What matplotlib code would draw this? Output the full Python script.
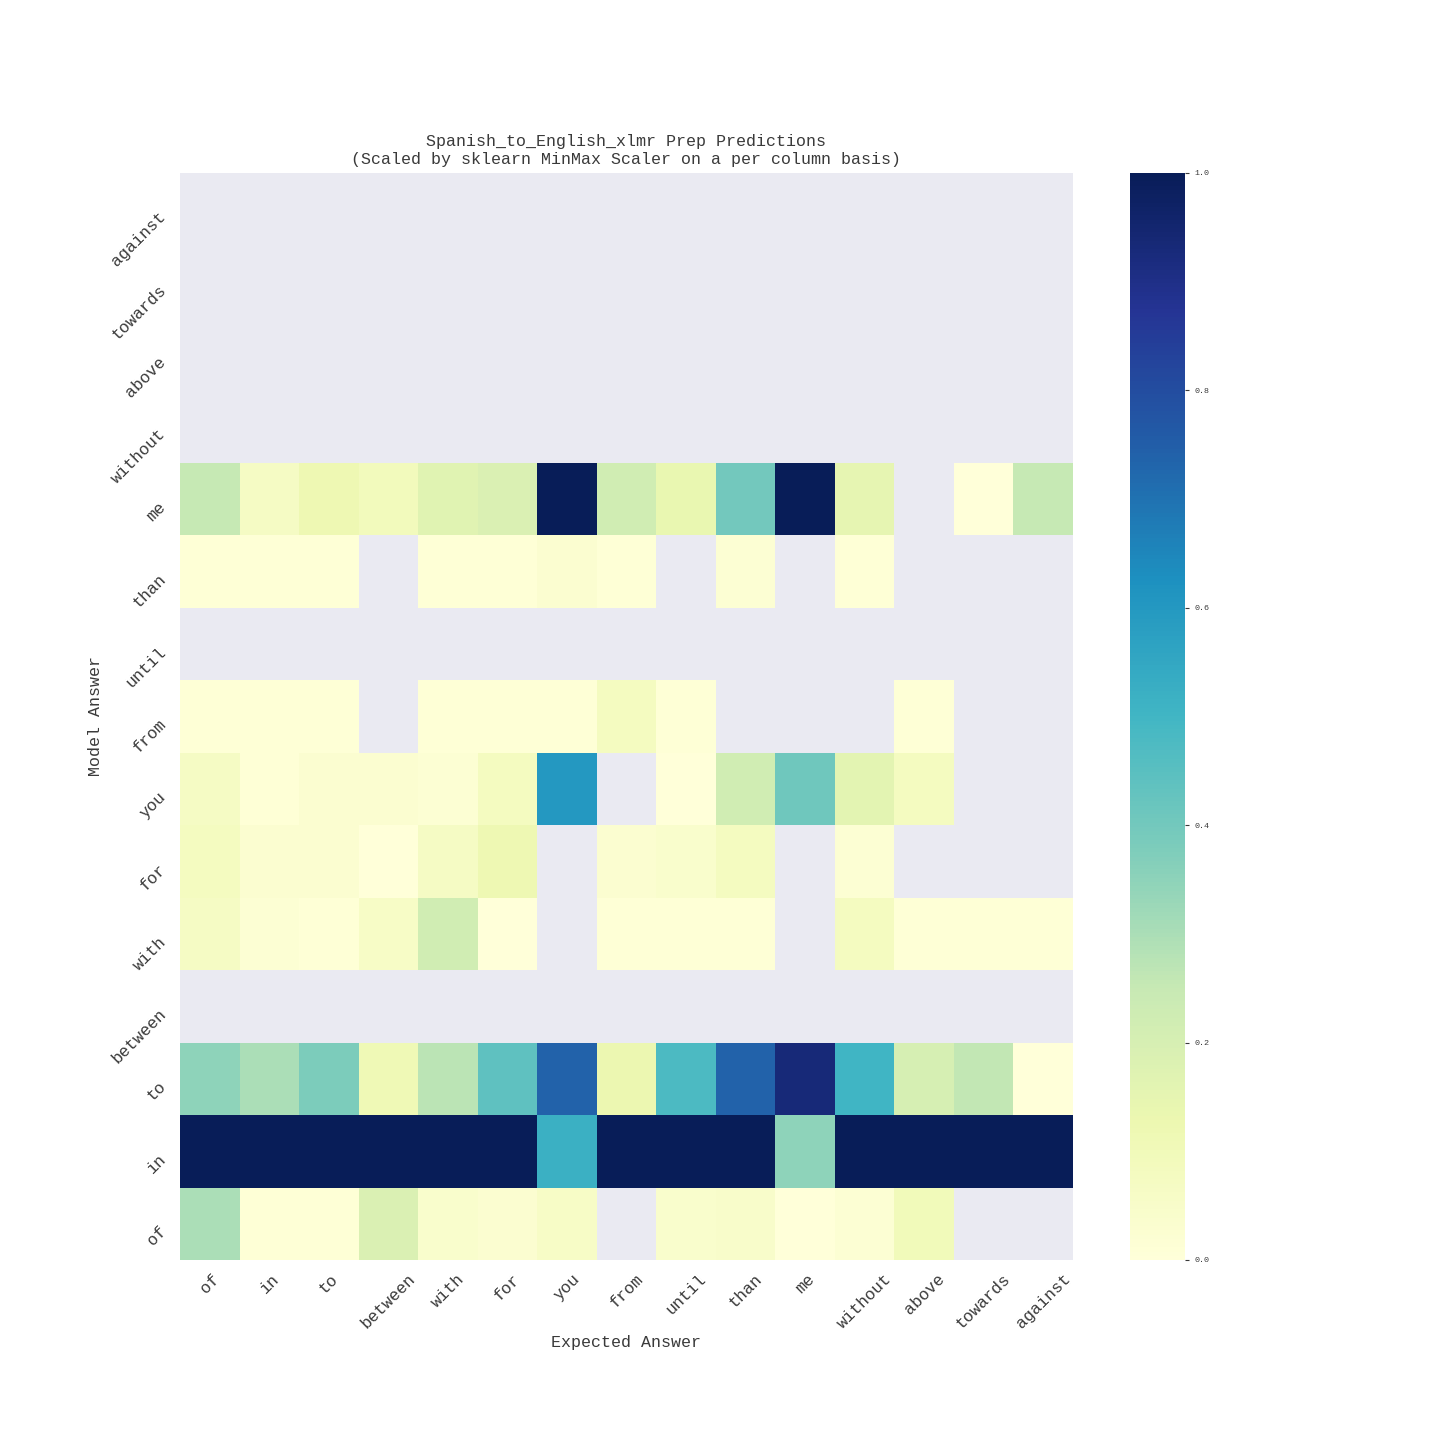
import numpy as np
import pandas as pd
import matplotlib
matplotlib.use("Agg")
import matplotlib.pyplot as plt
import seaborn as sns

nan = np.nan

# labels (rows listed bottom -> top)
expected = ["of", "in", "to", "between", "with", "for", "you", "from",
            "until", "than", "me", "without", "above", "towards", "against"]
model = ["of", "in", "to", "between", "with", "for", "you", "from",
         "until", "than", "me", "without", "above", "towards", "against"]

# scaled values per model answer row, columns follow `expected`
row_of = [0.30, 0.01, 0.01, 0.19, 0.04, 0.03, 0.06, nan, 0.04, 0.05, 0.00, 0.02, 0.10, nan, nan]
row_in = [1.00, 1.00, 1.00, 1.00, 1.00, 1.00, 0.52, 1.00, 1.00, 1.00, 0.35, 1.00, 1.00, 1.00, 1.00]
row_to = [0.35, 0.30, 0.38, 0.11, 0.27, 0.44, 0.74, 0.13, 0.48, 0.74, 0.93, 0.50, 0.20, 0.26, 0.00]
row_between = [nan] * 15
row_with = [0.07, 0.02, 0.01, 0.06, 0.22, 0.00, nan, 0.01, 0.01, 0.01, nan, 0.08, 0.01, 0.01, 0.01]
row_for = [0.08, 0.03, 0.03, 0.00, 0.07, 0.12, nan, 0.03, 0.04, 0.08, nan, 0.02, nan, nan, nan]
row_you = [0.07, 0.01, 0.03, 0.03, 0.02, 0.08, 0.60, nan, 0.00, 0.22, 0.41, 0.16, 0.08, nan, nan]
row_from = [0.01, 0.01, 0.01, nan, 0.01, 0.01, 0.01, 0.08, 0.01, nan, nan, nan, 0.01, nan, nan]
row_until = [nan] * 15
row_than = [0.01, 0.01, 0.01, nan, 0.01, 0.01, 0.03, 0.01, nan, 0.02, nan, 0.01, nan, nan, nan]
row_me = [0.25, 0.07, 0.12, 0.09, 0.17, 0.19, 1.00, 0.22, 0.14, 0.40, 1.00, 0.15, nan, 0.00, 0.25]
row_without = [nan] * 15
row_above = [nan] * 15
row_towards = [nan] * 15
row_against = [nan] * 15

rows = [row_of, row_in, row_to, row_between, row_with, row_for, row_you, row_from,
        row_until, row_than, row_me, row_without, row_above, row_towards, row_against]
df = pd.DataFrame(rows, index=model, columns=expected)

font = "Liberation Mono"
txt = "#3a3a3a"

fig = plt.figure(figsize=(14.4, 14.4), dpi=100)
ax = fig.add_axes([0.125, 0.125, 0.62, 0.755])
cax = fig.add_axes([0.785, 0.125, 0.038, 0.755])
ax.set_facecolor("#EAEAF2")

sns.heatmap(df, ax=ax, cbar_ax=cax, cmap="YlGnBu", vmin=0, vmax=1)
ax.invert_yaxis()

ax.set_title("Spanish_to_English_xlmr Prep Predictions\n(Scaled by sklearn MinMax Scaler on a per column basis)",
             fontsize=12, family=font, color=txt, pad=6, linespacing=1.3)
ax.set_xlabel("Expected Answer", fontsize=12, family=font, color=txt, labelpad=3)
ax.set_ylabel("Model Answer", fontsize=12, family=font, color=txt)

ax.set_xticklabels(expected, rotation=45, fontsize=12, family=font, color=txt)
ax.set_yticklabels(model, rotation=45, fontsize=12, family=font, color=txt, va="top")
ax.tick_params(length=0, pad=8)

cax.set_yticks([0.0, 0.2, 0.4, 0.6, 0.8, 1.0])
cax.tick_params(labelsize=6, length=3, colors=txt)
for t in cax.get_yticklabels():
    t.set_family(font)

fig.savefig("out.png", dpi=100)
